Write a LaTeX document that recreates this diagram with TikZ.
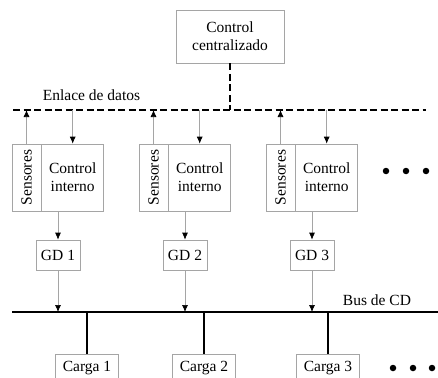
\documentclass[tikz,border=0pt]{standalone}
\usepackage{fontspec}
\setmainfont{Liberation Serif}
\usetikzlibrary{arrows.meta}

\definecolor{boxgray}{RGB}{165,165,165}

\tikzset{
  box/.style={draw=boxgray, line width=0.7pt, fill=white, inner sep=0pt, align=center},
  sig/.style={draw=boxgray, line width=0.7pt, -{Latex[color=black, length=7pt, width=6pt]}},
  link/.style={line width=2pt, dash pattern=on 7pt off 3.5pt},
  bus/.style={line width=2.5pt},
  bigdot/.style={circle, fill=black, inner sep=0pt, minimum size=6.5pt}
}

\begin{document}
\begin{tikzpicture}[x=1pt, y=-1pt, font=\fontsize{15.5}{18}\selectfont]
    \useasboundingbox (0,0) rectangle (438,377);

    \node[box, minimum width=108pt, minimum height=53pt] (cc) at (230,36.5) {Control\\centralizado};

    % enlace de datos
    \coordinate (dl) at (13,110);
    \coordinate (dr) at (426,110);
    \draw[link] (dl) -- (dr);
    \draw[link] (cc.south) -- (cc.south |- dl);
    \node (enlace) at (91.5,95) {Enlace de datos};

    % bus de CD
    \coordinate (bl) at (12,312);
    \coordinate (br) at (438,312);
    \draw[bus] (bl) -- (br);
    \node (busl) at (377,300) {Bus de CD};

    \foreach \i in {1,2,3} {
      \pgfmathsetmacro{\dx}{127*(\i-1)}
      \node[box, minimum width=29pt, minimum height=67pt] (s\i) at (26.5+\dx,177.5) {};
      \node[rotate=90] (st\i) at (s\i) {Sensores};
      \node[box, minimum width=62pt, minimum height=67pt, anchor=west] (c\i) at (s\i.east) {Control\\interno};
      \node[box, minimum width=44pt, minimum height=30pt] (g\i) at (58+\dx,255) {GD \i};

      \coordinate (u\i) at (s\i.north |- dl);
      \coordinate (v\i) at (c\i.north |- dl);
      \coordinate (h\i) at (g\i.north |- c\i.south);
      \coordinate (b\i) at (g\i.south |- bl);
      \draw[sig] (s\i.north) -- (u\i);
      \draw[sig] (v\i) -- (c\i.north);
      \draw[sig] (h\i) -- (g\i.north);
      \draw[sig] (g\i.south) -- (b\i);
    }

    \foreach \i/\x in {1/87,2/204,3/328} {
      \node[box, minimum width=63pt, minimum height=27pt, anchor=north] (l\i) at (\x,354) {Carga \i};
      \coordinate (k\i) at (l\i.north |- bl);
      \draw[bus] (k\i) -- (l\i.north);
    }

    \foreach \i/\x in {1/386,2/406,3/426} {
      \node[bigdot] (p\i) at (\x,171) {};
    }
    \foreach \i/\x in {1/393,2/413,3/432} {
      \node[bigdot] (q\i) at (\x,368) {};
    }

\end{tikzpicture}
\end{document}
